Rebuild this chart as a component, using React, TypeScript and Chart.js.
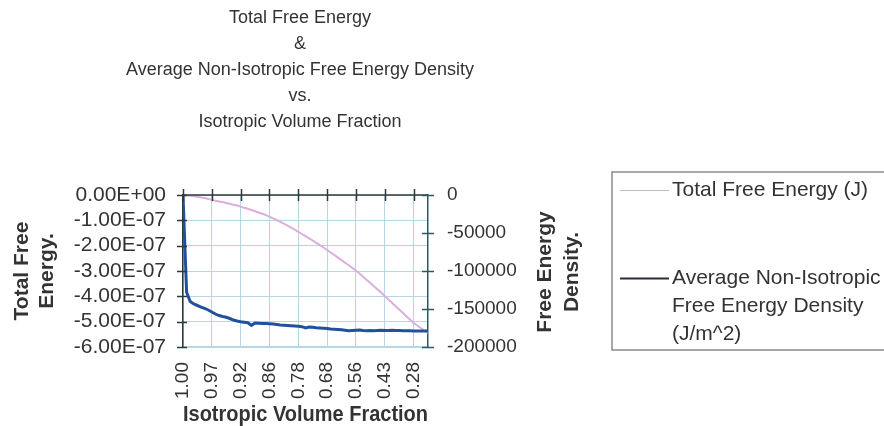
import React, { useEffect, useRef } from 'react';
import { Chart, registerables } from 'chart.js';

Chart.register(...registerables);

const FONT = '"Liberation Sans", Arial, Helvetica, sans-serif';

const titleLines = [
  'Total Free Energy',
  '&',
  'Average Non-Isotropic Free Energy Density',
  'vs.',
  'Isotropic Volume Fraction',
];

// x positions are data-point indices; every 8th point carries a category label
const xTickIndices = [0, 8, 16, 24, 32, 40, 48, 56, 64];
const xTickLabels = ['1.00', '0.97', '0.92', '0.86', '0.78', '0.68', '0.56', '0.43', '0.28'];

const leftTickValues = [0, -1e-7, -2e-7, -3e-7, -4e-7, -5e-7, -6e-7];
const leftTickLabels = ['0.00E+00', '-1.00E-07', '-2.00E-07', '-3.00E-07', '-4.00E-07', '-5.00E-07', '-6.00E-07'];

const rightTickValues = [0, -50000, -100000, -150000, -200000];
const rightTickLabels = ['0', '-50000', '-100000', '-150000', '-200000'];

// Total free energy, in nJ (1e-9 J)
const totalFreeEnergyNJ = [
  0, -1.2, -2.8, -4.7, -7.1, -9.5, -12.2, -15.4, -19.7, -22.5,
  -25.3, -28.0, -31.2, -34.7, -38.3, -41.8, -45.8, -50.1, -54.5, -59.2,
  -63.9, -69.1, -74.2, -79.7, -85.3, -92.0, -98.7, -105.8, -113.3, -120.8,
  -128.7, -137.0, -145.3, -154.0, -162.3, -171.0, -179.6, -188.7, -197.8, -207.3,
  -217.2, -227.0, -236.8, -247.1, -257.0, -267.2, -277.5, -287.7, -298.0, -310.2,
  -322.5, -335.1, -347.3, -360.0, -372.6, -385.2, -398.6, -412.0, -425.4, -438.8,
  -451.8, -465.2, -478.7, -491.7, -505.2, -515.0, -524.9, -534.8, -544.7,
];

// Average non-isotropic free energy density, J/m^2
const avgDensity = [
  0, -128000, -140100, -143400, -145400, -147400, -149300, -151300, -153900, -156600,
  -158600, -159900, -160900, -162500, -164500, -165800, -166700, -167400, -168000, -171500,
  -168400, -168800, -169100, -169100, -169400, -169700, -170400, -171100, -171400, -171700,
  -172000, -172400, -172800, -173300, -175000, -173700, -174100, -174700, -175000, -175400,
  -175700, -176300, -176600, -177000, -177400, -178000, -178600, -178200, -177900, -177600,
  -178300, -178600, -178200, -178600, -178300, -178000, -178300, -178200, -177900, -178300,
  -178400, -178600, -178700, -178700, -178900, -178900, -178900, -178900, -178900,
];

const legendEntries = [
  { lines: ['Total Free Energy (J)'], color: '#cbb6cb', width: 1 },
  { lines: ['Average Non-Isotropic', 'Free Energy Density', '(J/m^2)'], color: '#2a2d3a', width: 2 },
];
const rightTitleLines = ['Free Energy', 'Density.'];

const TEXT = '#333333';
const GRID = '#b6d8e6';

const decorPlugin = {
  id: 'decor',
  afterDraw(chart: any) {
    const ctx = chart.ctx as CanvasRenderingContext2D;
    const ca = chart.chartArea;
    const xs = chart.scales.x;
    const ys = chart.scales.y;
    const y2 = chart.scales.y2;
    ctx.save();
    // top axis line (category axis crosses at 0)
    ctx.strokeStyle = '#2f3838';
    ctx.lineWidth = 1.5;
    ctx.beginPath();
    ctx.moveTo(ca.left, ca.top);
    ctx.lineTo(ca.right, ca.top);
    ctx.stroke();
    // cross ticks on top axis
    for (const t of xs.ticks) {
      const px = Math.round(xs.getPixelForValue(t.value)) + 0.5;
      ctx.beginPath();
      ctx.moveTo(px, ca.top - 6);
      ctx.lineTo(px, ca.top + 6);
      ctx.stroke();
    }
    // cross ticks on left axis
    for (const t of ys.ticks) {
      const py = Math.round(ys.getPixelForValue(t.value)) + 0.5;
      ctx.beginPath();
      ctx.moveTo(ca.left - 6, py);
      ctx.lineTo(ca.left + 4, py);
      ctx.stroke();
    }
    // cross ticks on right axis
    ctx.strokeStyle = '#2d5866';
    for (const t of y2.ticks) {
      const py = Math.round(y2.getPixelForValue(t.value)) + 0.5;
      ctx.beginPath();
      ctx.moveTo(ca.right - 6, py);
      ctx.lineTo(ca.right + 6, py);
      ctx.stroke();
    }
    // right axis title (reads bottom to top)
    ctx.fillStyle = TEXT;
    ctx.font = `bold 21px ${FONT}`;
    ctx.textAlign = 'center';
    ctx.textBaseline = 'middle';
    const cy = (ca.top + ca.bottom) / 2 + 1;
    rightTitleLines.forEach((s, i) => {
      ctx.save();
      ctx.translate(y2.left + 117 + i * 27, cy);
      ctx.rotate(-Math.PI / 2);
      ctx.fillText(s, 0, 0);
      ctx.restore();
    });
    // legend box
    const lx = y2.right + 12;
    const ly = ca.top - 23;
    ctx.strokeStyle = '#8c8c8c';
    ctx.lineWidth = 1.5;
    ctx.strokeRect(lx, ly, 300, 178);
    ctx.font = `21px ${FONT}`;
    ctx.textAlign = 'left';
    const entryY = [ly + 18, ly + 106];
    legendEntries.forEach((e, k) => {
      const yy = entryY[k];
      ctx.strokeStyle = e.color;
      ctx.lineWidth = e.width;
      ctx.beginPath();
      ctx.moveTo(lx + 8, yy + 0.5);
      ctx.lineTo(lx + 57, yy + 0.5);
      ctx.stroke();
      ctx.fillStyle = TEXT;
      e.lines.forEach((s, j) => ctx.fillText(s, lx + 60, yy + j * 28));
    });
    ctx.restore();
  },
};

export default function App() {
  const ref = useRef<HTMLCanvasElement>(null);
  useEffect(() => {
    const canvas = ref.current!;
    const chart = new Chart(canvas, {
      type: 'line',
      data: {
        datasets: [
          {
            label: 'Average Non-Isotropic Free Energy Density (J/m^2)',
            data: avgDensity.map((y, i) => ({ x: i, y })),
            yAxisID: 'y2',
            borderColor: '#22509e',
            borderWidth: 3,
            pointRadius: 0,
            tension: 0,
            order: 0,
          },
          {
            label: 'Total Free Energy (J)',
            data: totalFreeEnergyNJ.map((v, i) => ({ x: i, y: v * 1e-9 })),
            yAxisID: 'y',
            borderColor: '#dcaedc',
            borderWidth: 2,
            pointRadius: 0,
            tension: 0,
            order: 1,
          },
        ],
      },
      options: {
        responsive: false,
        animation: false,
        events: [],
        layout: { padding: { left: 0, right: 284, top: 0, bottom: 0 } },
        plugins: {
          legend: { display: false },
          tooltip: { enabled: false },
          title: {
            display: true,
            text: titleLines,
            color: TEXT,
            font: { family: FONT, size: 18, weight: 'normal', lineHeight: 26 / 18 },
            padding: { top: 5, bottom: 60 },
          },
        },
        scales: {
          x: {
            type: 'linear',
            position: 'bottom',
            min: 0,
            max: avgDensity.length - 1,
            afterBuildTicks: (s: any) => {
              s.ticks = xTickIndices.map((value) => ({ value }));
            },
            afterFit: (s: any) => {
              s.height = 79;
            },
            ticks: {
              autoSkip: false,
              minRotation: 90,
              maxRotation: 90,
              padding: 15,
              color: TEXT,
              font: { family: FONT, size: 19 },
              callback: (_v: any, i: number) => xTickLabels[i],
            },
            grid: { color: GRID, lineWidth: 1, drawTicks: false },
            border: { color: GRID, width: 1.5 },
            title: {
              display: true,
              text: 'Isotropic Volume Fraction',
              color: TEXT,
              font: { family: FONT, size: 22, weight: 'bold', lineHeight: 1 },
              padding: { top: 0, bottom: 0 },
            },
          },
          y: {
            type: 'linear',
            position: 'left',
            min: leftTickValues[leftTickValues.length - 1],
            max: leftTickValues[0],
            afterBuildTicks: (s: any) => {
              s.ticks = leftTickValues.slice().reverse().map((value) => ({ value }));
            },
            afterFit: (s: any) => {
              s.width = 183;
            },
            ticks: {
              autoSkip: false,
              padding: 17,
              color: TEXT,
              font: { family: FONT, size: 21 },
              callback: (v: any) => {
                let best = 0;
                leftTickValues.forEach((t, k) => {
                  if (Math.abs(t - v) < Math.abs(leftTickValues[best] - v)) best = k;
                });
                return leftTickLabels[best];
              },
            },
            grid: { color: GRID, lineWidth: 1, drawTicks: false },
            border: { color: '#2f3838', width: 1.5 },
            title: {
              display: true,
              text: ['Total Free', 'Energy.'],
              color: TEXT,
              font: { family: FONT, size: 21, weight: 'bold', lineHeight: 25 / 21 },
              padding: { top: 9.5, bottom: 0 },
            },
          },
          y2: {
            type: 'linear',
            position: 'right',
            min: rightTickValues[rightTickValues.length - 1],
            max: rightTickValues[0],
            afterBuildTicks: (s: any) => {
              s.ticks = rightTickValues.slice().reverse().map((value) => ({ value }));
            },
            afterFit: (s: any) => {
              s.width = 172;
            },
            ticks: {
              autoSkip: false,
              padding: 19,
              color: TEXT,
              font: { family: FONT, size: 19 },
              callback: (v: any) => {
                const k = rightTickValues.indexOf(v);
                return k >= 0 ? rightTickLabels[k] : String(v);
              },
            },
            grid: { drawOnChartArea: false, drawTicks: false },
            border: { color: '#2d5866', width: 1.5 },
          },
        },
      } as any,
      plugins: [decorPlugin],
    });
    return () => chart.destroy();
  }, []);
  return (
    <div style={{ position: 'absolute', left: 0, top: 0, width: 884, height: 426, background: '#ffffff' }}>
      <canvas ref={ref} width={884} height={426} style={{ display: 'block' }} />
    </div>
  );
}
